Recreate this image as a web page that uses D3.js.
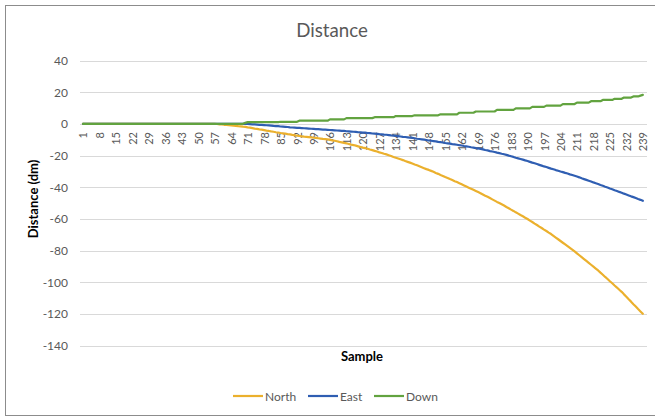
<!DOCTYPE html>
<html>
<head>
<meta charset="utf-8">
<script src="https://cdn.jsdelivr.net/npm/d3@7"></script>
<style>
  html, body { margin: 0; padding: 0; background: #fff; }
  svg { display: block; font-family: Lato, "Open Sans", sans-serif; }
</style>
</head>
<body>
<svg id="chart" width="655" height="417"></svg>
<script>
// Sample numbers 1..239
const categories = d3.range(1, 240);

// Category labels shown along the axis (every 7th sample)
const tickLabels = [1, 8, 15, 22, 29, 36, 43, 50, 57, 64, 71, 78, 85, 92, 99, 106, 113, 120,
  127, 134, 141, 148, 155, 162, 169, 176, 183, 190, 197, 204, 211, 218, 225, 232, 239];

const yTicks = [40, 20, 0, -20, -40, -60, -80, -100, -120, -140];

const north = [
  0, 0, 0, 0, 0, 0, 0, 0, 0, 0,
  0, 0, 0, 0, 0, 0, 0, 0, 0, 0,
  0, 0, 0, 0, 0, 0, 0, 0, 0, 0,
  0, 0, 0, 0, 0, 0, 0, 0, 0, 0,
  0, 0, 0, 0, 0, 0, 0, 0, 0, 0,
  0, 0, 0, 0, 0, 0, 0, -0.1, -0.3, -0.4,
  -0.6, -0.7, -0.9, -1.0, -1.2, -1.3, -1.5, -1.6, -1.8, -1.9,
  -2.2, -2.4, -2.7, -3.0, -3.2, -3.5, -3.7, -4.0, -4.3, -4.5,
  -4.8, -5.0, -5.3, -5.5, -5.8, -6.0, -6.2, -6.5, -6.7, -7.0,
  -7.2, -7.5, -7.7, -7.9, -8.1, -8.2, -8.4, -8.6, -8.8, -8.9,
  -9.1, -9.3, -9.5, -9.6, -9.8, -10.1, -10.4, -10.7, -11.0, -11.4,
  -11.7, -12.0, -12.3, -12.7, -13.1, -13.4, -13.8, -14.2, -14.6, -15.0,
  -15.3, -15.7, -16.2, -16.6, -17.1, -17.5, -18.0, -18.4, -18.9, -19.3,
  -19.8, -20.3, -20.9, -21.4, -21.9, -22.4, -22.9, -23.5, -24.0, -24.5,
  -25.1, -25.7, -26.2, -26.8, -27.4, -28.0, -28.6, -29.1, -29.7, -30.3,
  -31.0, -31.6, -32.3, -32.9, -33.6, -34.2, -34.9, -35.5, -36.2, -36.8,
  -37.5, -38.2, -38.9, -39.6, -40.3, -41.0, -41.7, -42.4, -43.1, -43.8,
  -44.6, -45.4, -46.1, -46.9, -47.7, -48.5, -49.3, -50.0, -50.8, -51.6,
  -52.5, -53.3, -54.2, -55.0, -55.9, -56.7, -57.6, -58.4, -59.3, -60.1,
  -61.1, -62.0, -63.0, -63.9, -64.9, -65.8, -66.8, -67.7, -68.7, -69.6,
  -70.7, -71.8, -72.9, -74.0, -75.1, -76.2, -77.3, -78.4, -79.5, -80.6,
  -81.8, -83.0, -84.2, -85.4, -86.6, -87.8, -89.0, -90.2, -91.4, -92.6,
  -94.0, -95.3, -96.7, -98.0, -99.4, -100.7, -102.1, -103.4, -104.8, -106.1,
  -107.7, -109.2, -110.8, -112.3, -113.9, -115.4, -117.0, -118.5, -120.0
];

const east = [
  0, 0, 0, 0, 0, 0, 0, 0, 0, 0,
  0, 0, 0, 0, 0, 0, 0, 0, 0, 0,
  0, 0, 0, 0, 0, 0, 0, 0, 0, 0,
  0, 0, 0, 0, 0, 0, 0, 0, 0, 0,
  0, 0, 0, 0, 0, 0, 0, 0, 0, 0,
  0, 0, 0, 0, 0, 0, 0, 0, 0, 0,
  0, 0, 0, 0, 0, 0, 0, 0, 0, 0,
  -0.1, -0.2, -0.3, -0.4, -0.5, -0.6, -0.7, -0.8, -0.9, -1.0,
  -1.1, -1.3, -1.4, -1.5, -1.7, -1.8, -1.9, -2.0, -2.2, -2.3,
  -2.4, -2.5, -2.6, -2.7, -2.8, -2.9, -3.0, -3.1, -3.2, -3.3,
  -3.4, -3.5, -3.6, -3.7, -3.8, -3.9, -4.0, -4.1, -4.2, -4.3,
  -4.4, -4.5, -4.7, -4.8, -4.9, -5.0, -5.1, -5.3, -5.4, -5.5,
  -5.6, -5.8, -5.9, -6.1, -6.2, -6.3, -6.5, -6.6, -6.8, -6.9,
  -7.1, -7.3, -7.4, -7.6, -7.8, -8.0, -8.2, -8.3, -8.5, -8.7,
  -8.9, -9.1, -9.4, -9.6, -9.8, -10.0, -10.2, -10.5, -10.7, -10.9,
  -11.1, -11.4, -11.6, -11.8, -12.1, -12.3, -12.5, -12.8, -13.0, -13.2,
  -13.5, -13.7, -14.0, -14.2, -14.5, -14.8, -15.0, -15.3, -15.5, -15.8,
  -16.1, -16.5, -16.8, -17.2, -17.5, -17.8, -18.2, -18.5, -18.9, -19.2,
  -19.6, -20.1, -20.5, -20.9, -21.4, -21.8, -22.2, -22.6, -23.1, -23.5,
  -24.0, -24.5, -24.9, -25.4, -25.9, -26.4, -26.9, -27.3, -27.8, -28.3,
  -28.7, -29.2, -29.6, -30.1, -30.5, -31.0, -31.4, -31.9, -32.3, -32.8,
  -33.3, -33.8, -34.4, -34.9, -35.4, -35.9, -36.4, -37.0, -37.5, -38.0,
  -38.6, -39.1, -39.7, -40.2, -40.8, -41.3, -41.9, -42.4, -43.0, -43.5,
  -44.1, -44.6, -45.2, -45.8, -46.3, -46.9, -47.5, -48.0, -48.6
];

const down = [
  0, 0, 0, 0, 0, 0, 0, 0, 0, 0,
  0, 0, 0, 0, 0, 0, 0, 0, 0, 0,
  0, 0, 0, 0, 0, 0, 0, 0, 0, 0,
  0, 0, 0, 0, 0, 0, 0, 0, 0, 0,
  0, 0, 0, 0, 0, 0, 0, 0, 0, 0,
  0, 0, 0, 0, 0, 0, 0, 0, 0, 0,
  0, 0, 0, 0, 0, 0, 0, 0, 0, 0.6,
  1.1, 1.1, 1.1, 1.1, 1.1, 1.1, 1.1, 1.1, 1.1, 1.1,
  1.1, 1.1, 1.1, 1.1, 1.3, 1.3, 1.3, 1.3, 1.3, 1.3,
  1.3, 1.3, 2.0, 2.0, 2.0, 2.0, 2.0, 2.0, 2.0, 2.0,
  2.0, 2.0, 2.0, 2.0, 2.0, 2.8, 2.8, 2.8, 2.8, 2.8,
  2.8, 2.8, 3.6, 3.6, 3.6, 3.6, 3.6, 3.6, 3.6, 3.6,
  3.6, 3.6, 3.6, 3.6, 4.2, 4.2, 4.2, 4.2, 4.2, 4.2,
  4.2, 4.2, 4.2, 4.9, 4.9, 4.9, 4.9, 4.9, 4.9, 4.9,
  4.9, 5.4, 5.4, 5.4, 5.4, 5.4, 5.4, 5.4, 5.4, 5.4,
  5.4, 5.4, 6.0, 6.0, 6.0, 6.0, 6.0, 6.0, 6.0, 6.0,
  7.0, 7.0, 7.0, 7.0, 7.0, 7.0, 7.0, 7.8, 7.8, 7.8,
  7.8, 7.8, 7.8, 7.8, 7.8, 7.8, 8.8, 8.8, 8.8, 8.8,
  8.8, 8.8, 8.8, 8.8, 9.8, 9.8, 9.8, 9.8, 9.8, 9.8,
  9.8, 10.7, 10.7, 10.7, 10.7, 10.7, 10.7, 11.5, 11.5, 11.5,
  11.5, 11.5, 11.5, 11.5, 12.5, 12.5, 12.5, 12.5, 12.5, 12.5,
  13.4, 13.4, 13.4, 13.4, 13.4, 13.4, 14.3, 14.3, 14.3, 14.3,
  14.3, 15.1, 15.1, 15.1, 15.1, 15.1, 15.8, 15.8, 15.8, 15.8,
  16.6, 16.6, 16.6, 16.6, 17.3, 17.3, 17.3, 17.8, 18.3
];

const seriesNames = ["North", "East", "Down"];
const seriesColors = ["#EBB02D", "#2F5EB2", "#62A33F"];
const seriesValues = [north, east, down];

const svg = d3.select("#chart");
const textColor = "#595959";
const gridColor = "#d9d9d9";

// Outer chart frame
svg.append("rect")
  .attr("x", 5.5).attr("y", 5.5)
  .attr("width", 660).attr("height", 410)
  .attr("fill", "#fff")
  .attr("stroke", "#8c8c8c")
  .attr("stroke-width", 1);

const x = d3.scalePoint()
  .domain(categories)
  .range([81.8, 644])
  .padding(0.5);

const y = d3.scaleLinear()
  .domain([-140, 40])
  .range([345.5, 60.5]);

const gridLeft = 80, gridRight = 647;

// Horizontal gridlines
svg.append("g")
  .selectAll("line")
  .data(yTicks)
  .join("line")
  .attr("x1", gridLeft).attr("x2", gridRight)
  .attr("y1", d => Math.round(y(d)) + 0.5)
  .attr("y2", d => Math.round(y(d)) + 0.5)
  .attr("stroke", gridColor)
  .attr("stroke-width", 1);

// Value axis labels (plain hyphen for negatives)
const yAxis = d3.axisLeft(y)
  .tickValues(yTicks)
  .tickFormat(d => String(d))
  .tickSize(0)
  .tickPadding(0);
svg.append("g")
  .attr("transform", `translate(68,0)`)
  .call(yAxis)
  .call(g => g.select(".domain").remove())
  .call(g => g.selectAll("text")
    .attr("fill", textColor)
    .attr("font-size", 12)
    .attr("font-family", "Lato, 'Open Sans', sans-serif"));

// Category axis labels, rotated, hanging below the zero line
svg.append("g")
  .selectAll("text")
  .data(tickLabels)
  .join("text")
  .attr("transform", d => `translate(${x(d)},132) rotate(-90)`)
  .attr("text-anchor", "end")
  .attr("dominant-baseline", "central")
  .attr("fill", textColor)
  .attr("font-size", 11)
  .text(d => d);

// Series lines
const line = d3.line()
  .x((d, i) => x(categories[i]))
  .y(d => y(d));

svg.append("g")
  .selectAll("path")
  .data(seriesValues)
  .join("path")
  .attr("d", d => line(d))
  .attr("fill", "none")
  .attr("stroke", (d, i) => seriesColors[i])
  .attr("stroke-width", 2.2)
  .attr("stroke-linejoin", "round")
  .attr("stroke-linecap", "round");

// Title
svg.append("text")
  .attr("x", 332).attr("y", 37)
  .attr("text-anchor", "middle")
  .attr("fill", textColor)
  .attr("font-size", 18.7)
  .text("Distance");

// Axis titles
svg.append("text")
  .attr("transform", "translate(38,199) rotate(-90)")
  .attr("text-anchor", "middle")
  .attr("fill", "#000")
  .attr("font-size", 13)
  .attr("font-weight", "bold")
  .text("Distance (dm)");

svg.append("text")
  .attr("x", 362).attr("y", 361)
  .attr("text-anchor", "middle")
  .attr("fill", "#000")
  .attr("font-size", 13)
  .attr("font-weight", "bold")
  .text("Sample");

// Legend
const legendX = [233, 308, 374];
const legend = svg.append("g")
  .selectAll("g")
  .data(seriesNames)
  .join("g")
  .attr("transform", (d, i) => `translate(${legendX[i]},396)`);

legend.append("line")
  .attr("x1", 0).attr("x2", 30)
  .attr("y1", 0).attr("y2", 0)
  .attr("stroke", (d, i) => seriesColors[i])
  .attr("stroke-width", 2.2);

legend.append("text")
  .attr("x", 32).attr("y", 0)
  .attr("dominant-baseline", "central")
  .attr("fill", textColor)
  .attr("font-size", 12)
  .text(d => d);
</script>
</body>
</html>
